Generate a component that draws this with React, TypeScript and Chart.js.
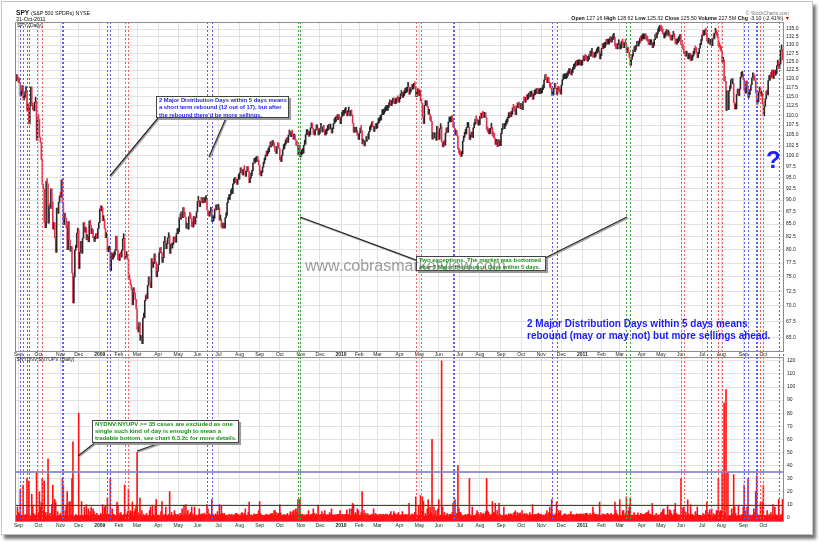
import React, { useEffect, useRef } from 'react';
import { Chart, registerables } from 'chart.js';

Chart.register(...registerables);

// ---------------- DATA ----------------
// SPY daily closes (dividend adjusted, as on the chart), 27-Aug-2008 .. 31-Oct-2011
const close2008 = [
  119.4, 121.2, 119.6,
  119.0, 118.8, 115.2, 115.8, 118.1, 114.1, 114.8, 116.4, 116.7, 111.2, 113.1, 107.8, 112.5, 117.7, 113.3, 111.5, 111.2, 113.5, 113.8, 103.7, 109.4,
  108.9, 104.5, 103.1, 99.1, 93.4, 92.4, 85.4, 84.3, 94.1, 93.6, 85.2, 88.7, 88.2, 92.4, 89.6, 84.0, 85.3, 82.3, 79.5, 88.3, 87.2, 89.5, 90.9,
  90.6, 94.4, 89.4, 84.9, 87.2, 86.2, 84.3, 80.0, 85.5, 81.9, 79.7, 80.6, 75.7, 70.5, 75.0, 79.9, 80.4, 83.2, 84.0,
  76.5, 79.5, 81.6, 79.3, 82.2, 85.3, 83.4, 84.3, 81.9, 82.5, 81.5, 85.6, 84.8, 83.1, 83.9, 82.3, 81.6, 82.1, 82.5, 82.2, 84.1, 85.3,
];
const close2009 = [
  88.1, 87.7, 88.4, 85.7, 86.0, 84.1, 82.3, 82.3, 79.6, 79.7, 80.3, 76.1, 79.4, 78.2, 78.6, 79.0, 79.9, 82.6, 79.9, 78.1,
  78.0, 79.2, 78.6, 79.9, 82.1, 82.2, 78.2, 78.7, 78.9, 78.2, 74.6, 74.5, 73.6, 72.8, 70.2, 73.1, 72.2, 71.1, 69.5,
  66.2, 65.8, 67.3, 64.5, 64.5, 64.0, 68.0, 68.1, 70.9, 71.5, 71.2, 73.5, 75.0, 74.1, 73.1, 78.3, 76.7, 77.4, 79.2, 77.7, 75.0, 76.0,
  77.2, 79.4, 80.3, 79.5, 77.6, 78.5, 81.6, 81.7, 80.2, 81.1, 82.3, 82.8, 79.3, 81.0, 80.3, 81.0, 82.4, 81.6, 81.4, 83.1, 83.1,
  83.5, 86.3, 86.0, 87.5, 86.3, 88.4, 86.5, 86.4, 84.2, 85.0, 84.0, 86.5, 86.4, 86.1, 84.5, 84.4, 86.6, 85.0, 86.3, 87.5,
  89.7, 89.9, 88.6, 89.7, 89.5, 89.4, 89.7, 89.5, 89.9, 90.1, 87.9, 86.7, 86.6, 87.4, 88.2, 85.5, 85.7, 86.2, 88.1, 87.9, 88.8, 88.0,
  88.4, 85.8, 86.0, 84.4, 84.2, 84.5, 84.2, 86.3, 86.8, 89.4, 90.1, 90.1, 91.1, 91.4, 91.4, 93.5, 93.8, 94.1, 93.8, 93.4, 94.5, 94.6,
  96.0, 96.3, 96.0, 95.5, 96.8, 96.5, 95.2, 96.3, 97.0, 96.3, 93.8, 94.8, 95.4, 96.5, 98.3, 98.2, 98.5, 98.6, 98.8, 98.6, 97.8,
  95.6, 95.3, 96.1, 97.3, 98.2, 99.0, 100.0, 99.9, 100.5, 100.9, 102.3, 102.1, 102.7, 102.4, 103.0, 102.0, 101.0, 100.5, 102.2, 102.0, 101.7,
  99.0, 98.6, 100.0, 101.4, 101.7, 102.5, 103.0, 103.5, 103.2, 105.0, 105.4, 104.6, 105.5, 105.0, 104.0, 105.0, 103.8, 102.5, 102.3, 100.2, 102.5, 99.7,
  100.2, 100.5, 100.6, 102.5, 102.8, 105.1, 105.1, 105.6, 104.7, 105.1, 106.8, 106.8, 106.7, 105.2, 105.0, 106.4, 106.3, 106.8, 105.0, 105.4,
  106.7, 106.8, 105.8, 106.3, 106.2, 105.0, 105.3, 106.1, 106.4, 107.2, 106.5, 106.8, 105.5, 106.6, 107.9, 108.2, 108.5, 109.0, 108.9, 109.0, 108.9, 107.9,
];
const close2010 = [
  109.6, 110.0, 110.0, 110.5, 110.8, 111.0, 109.9, 110.9, 111.1, 109.9, 111.3, 110.1, 108.0, 105.7, 106.0, 105.7, 106.1, 104.9, 103.9,
  105.5, 106.7, 106.1, 102.8, 103.1, 102.3, 103.6, 103.4, 104.3, 104.0, 105.8, 106.3, 107.0, 107.3, 107.2, 105.9, 107.0, 106.6, 106.8,
  107.9, 108.2, 108.7, 108.8, 110.2, 110.2, 110.4, 110.9, 111.3, 111.3, 111.3, 112.1, 112.8, 112.8, 112.6, 113.2, 114.0, 113.4, 113.1, 113.3, 114.0, 113.9, 113.5,
  114.4, 115.3, 115.5, 114.8, 115.3, 115.9, 116.1, 116.3, 117.6, 117.7, 115.7, 116.3, 117.3, 117.0, 117.3, 118.3, 117.7, 115.0, 115.6, 117.2, 115.3,
  116.8, 113.9, 113.2, 109.5, 107.9, 112.6, 112.6, 113.8, 112.3, 110.3, 110.3, 108.8, 108.4, 104.0, 105.6, 104.3, 104.3, 103.7, 107.2, 105.7,
  103.9, 106.6, 107.1, 103.3, 102.1, 103.2, 102.5, 105.5, 106.0, 105.7, 108.3, 108.3, 108.4, 109.1, 108.7, 107.0, 106.7, 105.0, 105.1, 104.8, 101.6, 100.6,
  100.2, 99.8, 100.4, 103.5, 104.4, 105.2, 105.3, 106.9, 106.9, 107.0, 103.9, 104.5, 105.7, 104.4, 106.8, 107.7, 108.8, 108.6, 107.9, 107.5, 107.6,
  109.8, 109.3, 110.0, 109.8, 109.5, 110.1, 109.4, 106.4, 105.8, 105.3, 105.4, 106.7, 106.9, 104.9, 104.5, 104.2, 102.7, 103.1, 102.2, 103.9, 102.4, 102.4,
  105.4, 106.4, 107.8, 106.6, 107.3, 107.8, 108.3, 109.4, 109.4, 109.8, 109.7, 110.3, 112.0, 111.6, 111.1, 110.2, 112.5, 112.0, 112.4, 112.2, 111.8,
  112.3, 111.5, 113.7, 113.6, 113.5, 114.3, 114.2, 114.6, 115.4, 115.0, 115.2, 116.0, 114.3, 115.4, 115.6, 115.9, 116.1, 115.9, 115.8, 115.9, 115.9,
  116.1, 116.9, 117.4, 119.7, 120.1, 119.9, 118.9, 119.4, 118.9, 117.6, 117.3, 115.4, 115.5, 117.3, 117.5, 117.3, 115.6, 117.4, 116.5, 116.3, 115.7,
  118.2, 119.7, 120.0, 120.0, 120.0, 120.3, 120.8, 121.5, 121.5, 121.6, 121.1, 121.8, 122.7, 123.0, 123.6, 124.1, 123.9, 124.0, 124.1, 124.2, 123.9, 124.0,
];
const close2011 = [
  125.4, 125.2, 125.9, 125.6, 125.4, 125.1, 125.6, 126.8, 126.6, 127.5, 127.7, 126.3, 126.2, 126.5, 127.3, 127.8, 127.9, 128.1, 125.8, 126.8,
  129.0, 128.9, 129.2, 129.3, 130.2, 130.6, 130.3, 130.3, 131.0, 131.3, 130.9, 131.7, 132.1, 132.4, 129.7, 128.9, 128.8, 130.1, 130.8,
  128.8, 129.1, 131.2, 130.3, 129.2, 130.3, 130.2, 127.7, 128.6, 127.8, 126.3, 123.9, 125.6, 126.6, 128.5, 128.0, 128.4, 129.6, 130.1, 129.7, 130.6, 131.5, 131.3,
  131.9, 131.9, 131.9, 132.2, 132.0, 131.5, 131.1, 130.2, 130.1, 130.1, 130.7, 129.2, 129.9, 131.7, 132.4, 132.2, 133.5, 134.2, 134.6, 135.0,
  134.7, 134.3, 133.4, 132.2, 132.7, 133.3, 134.3, 133.0, 133.6, 132.5, 131.6, 131.5, 132.7, 133.1, 132.0, 130.4, 130.3, 130.7, 131.2, 131.8, 133.2,
  130.1, 129.9, 128.7, 127.4, 126.7, 126.6, 127.6, 125.8, 125.8, 127.5, 125.3, 125.5, 126.6, 127.2, 129.0, 128.2, 127.7, 126.2, 127.4, 129.0, 130.1, 131.4,
  133.3, 133.0, 133.2, 134.6, 133.7, 131.2, 130.6, 131.0, 130.2, 130.9, 129.8, 132.0, 131.9, 133.7, 133.9, 133.1, 132.4, 129.7, 129.4, 128.5,
  128.0, 124.8, 125.5, 119.4, 119.3, 111.3, 116.6, 111.5, 116.6, 117.3, 119.8, 118.6, 118.7, 113.4, 111.7, 111.7, 115.6, 117.1, 115.3, 117.1, 120.4, 120.7, 121.3,
  119.8, 116.8, 116.0, 119.3, 118.0, 114.8, 115.6, 116.7, 118.3, 120.3, 121.6, 119.6, 119.5, 116.1, 113.0, 113.6, 116.3, 117.5, 115.2, 116.0, 113.1,
  109.9, 112.4, 114.4, 116.5, 115.5, 119.5, 119.6, 120.8, 120.4, 122.5, 120.1, 122.5, 121.0, 121.5, 123.8, 125.4, 123.0, 124.3, 128.5, 128.6, 125.5,
];

// $NYDNV:$NYUPV daily ratio
const ratio2008 = [
  2.0, 1.7, 8.2,
  4.0, 3.3, 22, 2.2, 1.7, 25, 2.3, 2.0, 2.5, 30, 2.0, 28, 1.5, 1.4, 18, 9.6, 3.3, 1.8, 2.3, 35, 1.5,
  4.0, 20, 8.2, 12, 30, 5.4, 28, 4.0, 1.3, 4.0, 45, 1.8, 3.3, 1.5, 10, 25, 2.5, 14, 12, 1.3, 4.7, 1.8, 2.0,
  3.3, 1.5, 30, 25, 1.7, 5.4, 9.6, 20, 1.7, 12, 12.4, 2.5, 30, 58, 1.5, 1.3, 2.5, 1.7, 1.7,
  80, 1.7, 1.8, 12.4, 1.8, 1.5, 8.2, 2.2, 10, 2.3, 6.8, 1.4, 4.7, 8.2, 2.6, 6.8, 4.7, 2.5, 2.2, 3.3, 1.7, 2.0,
];
const ratio2009 = [
  1.7, 3.3, 2.2, 10, 2.5, 8.2, 9.6, 2.9, 15, 2.6, 2.5, 30, 1.4, 6.8, 2.6, 2.5, 2.0, 1.4, 12, 9.6,
  3.3, 1.8, 4.0, 2.0, 1.5, 2.6, 25, 2.3, 2.6, 4.7, 22, 3.3, 5.4, 4.7, 12, 1.4, 4.7, 6.8, 9.6,
  50, 4.0, 1.7, 15, 2.9, 5.4, 1.3, 2.6, 1.5, 2.0, 3.3, 1.5, 1.7, 5.4, 8.2, 1.3, 9.6, 2.2, 1.7, 9.6, 14, 1.8,
  2.0, 1.5, 2.0, 4.7, 12.4, 2.2, 1.5, 2.6, 8.2, 2.0, 1.8, 2.5, 20, 1.8, 4.0, 2.0, 1.7, 5.4, 2.9, 1.7, 2.6,
  2.2, 1.4, 3.3, 2.0, 6.8, 1.7, 9.6, 3.0, 10, 2.2, 5.4, 1.5, 2.7, 4.0, 8.2, 2.9, 1.5, 8.2, 2.2, 1.8,
  1.5, 2.3, 6.8, 2.0, 2.9, 2.9, 2.3, 3.3, 2.3, 2.5, 10, 6.8, 3.3, 2.2, 2.5, 14, 2.6, 2.3, 1.5, 3.0, 2.0, 4.7,
  2.0, 10, 2.6, 9.6, 3.3, 2.2, 3.3, 1.5, 2.0, 1.4, 2.0, 2.6, 1.8, 2.2, 2.6, 1.5, 2.2, 2.2, 3.3, 3.4, 2.0, 2.5,
  1.7, 2.2, 3.7, 3.7, 1.8, 3.3, 6.8, 1.8, 2.0, 4.0, 12, 1.8, 2.2, 1.8, 1.7, 2.9, 2.3, 2.6, 2.5, 2.9, 5.4,
  12.4, 3.3, 2.0, 1.7, 1.8, 2.0, 1.8, 2.7, 2.0, 2.2, 1.7, 3.0, 2.6, 3.4, 2.2, 5.4, 5.4, 4.0, 1.7, 3.2, 3.3,
  10, 3.7, 1.7, 1.7, 2.5, 2.0, 2.0, 2.3, 3.3, 1.5, 2.2, 4.7, 2.0, 4.0, 5.4, 2.2, 6.1, 6.8, 4.0, 13.8, 1.5, 14,
  2.3, 2.5, 2.6, 1.5, 2.2, 1.5, 2.6, 2.2, 5.4, 2.2, 1.7, 2.6, 2.9, 6.8, 3.3, 1.7, 2.9, 2.2, 9.6, 2.3,
  1.7, 2.6, 4.7, 2.5, 3.0, 5.4, 2.3, 2.0, 2.3, 2.0, 4.0, 2.5, 6.8, 2.2, 1.8, 2.2, 2.3, 2.0, 2.6, 2.6, 2.6, 5.4,
];
const ratio2010 = [
  1.5, 2.6, 2.5, 2.2, 2.5, 2.5, 6.1, 2.0, 2.5, 6.8, 1.7, 6.8, 11, 10, 2.5, 4.0, 2.5, 6.8, 5.4,
  1.7, 1.7, 4.0, 20, 2.6, 5.4, 1.7, 3.3, 1.8, 2.9, 1.7, 2.0, 2.0, 2.3, 2.9, 6.8, 1.8, 3.3, 2.5,
  1.8, 2.2, 2.5, 2.5, 1.5, 2.6, 2.5, 2.2, 2.3, 2.7, 2.6, 1.8, 2.0, 2.7, 4.7, 2.2, 1.8, 4.7, 3.3, 2.5, 2.2, 2.9, 4.0,
  2.0, 2.0, 2.3, 4.7, 2.3, 2.0, 2.3, 2.6, 1.7, 2.5, 11, 2.2, 1.8, 3.0, 2.5, 2.0, 4.0, 16, 2.2, 1.8, 9.6,
  1.7, 17, 5.4, 16, 12.4, 1.2, 3.3, 1.7, 6.8, 13.8, 3.0, 8.2, 4.0, 60, 1.5, 8.2, 3.0, 5.4, 1.3, 6.8,
  13.8, 1.4, 2.0, 120, 8.2, 2.0, 4.0, 1.4, 2.2, 3.3, 1.4, 2.6, 2.6, 2.3, 4.0, 11, 4.0, 13.8, 2.2, 3.3, 40, 6.8,
  4.0, 4.0, 2.3, 1.3, 1.8, 2.0, 2.6, 1.5, 2.7, 2.6, 30, 2.2, 1.8, 8.2, 1.4, 1.7, 1.8, 3.0, 5.4, 4.0, 2.6,
  1.4, 4.0, 2.0, 3.0, 3.3, 2.0, 4.7, 30, 5.4, 4.0, 2.6, 1.7, 2.5, 12.4, 4.0, 4.0, 11, 2.2, 5.4, 1.7, 11, 2.6,
  1.4, 1.8, 1.7, 8.2, 1.8, 2.2, 2.0, 1.7, 2.9, 2.2, 3.0, 2.6, 1.7, 3.3, 4.0, 5.4, 1.5, 4.0, 2.2, 3.3, 3.7,
  2.3, 5.4, 1.5, 2.9, 3.2, 2.0, 2.9, 2.2, 1.8, 4.0, 2.5, 2.0, 10, 1.8, 2.5, 2.5, 2.3, 3.0, 3.3, 2.6, 2.6,
  2.6, 1.8, 2.2, 1.5, 2.2, 3.2, 5.4, 2.3, 4.0, 8.2, 3.3, 14, 2.6, 1.5, 2.2, 3.2, 12, 1.5, 5.4, 3.7, 5.4,
  1.4, 1.5, 2.0, 2.7, 2.9, 2.2, 2.2, 2.0, 2.6, 2.5, 4.7, 2.0, 2.5, 2.3, 2.0, 2.2, 3.0, 2.6, 2.6, 2.5, 3.0, 2.6,
];
const ratio2011 = [
  1.8, 3.0, 2.0, 3.3, 3.4, 3.2, 2.3, 1.8, 3.3, 2.0, 2.3, 8.2, 3.7, 2.6, 2.0, 2.6, 2.2, 2.3, 12, 1.8,
  1.5, 3.0, 2.5, 2.5, 2.0, 2.2, 3.4, 2.9, 2.0, 2.3, 3.4, 2.0, 2.2, 2.3, 12, 5.4, 3.3, 1.7, 2.0,
  13.8, 2.2, 1.4, 5.4, 5.4, 1.8, 3.3, 16, 1.8, 5.4, 8.2, 15, 1.5, 2.2, 1.5, 4.0, 2.2, 1.8, 2.2, 3.7, 1.8, 1.8, 3.3,
  2.2, 2.6, 2.6, 2.2, 3.4, 4.0, 3.7, 5.4, 2.9, 2.7, 2.2, 11, 2.0, 1.5, 2.0, 3.3, 1.8, 2.0, 2.2, 2.2,
  3.7, 4.3, 6.1, 6.8, 2.2, 2.2, 1.8, 9.6, 2.3, 6.1, 5.4, 3.3, 2.0, 2.3, 6.1, 11, 3.3, 2.3, 2.2, 2.2, 1.7,
  30, 3.3, 7.5, 8.2, 4.7, 4.0, 2.0, 13.8, 2.9, 1.7, 10, 2.6, 2.5, 2.0, 1.5, 4.7, 2.9, 8.2, 1.8, 1.7, 1.8, 1.7,
  1.5, 3.2, 2.6, 1.8, 5.4, 12, 4.0, 2.5, 6.1, 2.2, 6.8, 1.5, 3.2, 1.7, 2.5, 5.4, 5.4, 30, 4.0, 5.4,
  5.4, 35, 2.3, 88, 4.0, 98, 1.3, 35, 1.3, 1.8, 1.5, 6.8, 2.6, 33, 8.2, 3.3, 1.3, 1.8, 9.6, 1.8, 1.4, 2.3, 2.3,
  8.2, 25, 5.4, 1.4, 8.2, 30, 2.0, 2.0, 1.8, 1.7, 2.2, 6.8, 4.0, 20, 32, 2.3, 1.5, 2.0, 12, 2.2, 12,
  25, 1.8, 1.7, 1.7, 5.4, 1.3, 2.6, 2.0, 4.0, 1.7, 10, 1.7, 8.2, 2.5, 1.7, 1.7, 14, 2.2, 1.4, 2.6, 14,
];

// axis labels
const leadDays = 3; // 27..29 Aug 2008 before the first month tick
const monthLabels = ['Sep', 'Oct', 'Nov', 'Dec', '2009', 'Feb', 'Mar', 'Apr', 'May', 'Jun', 'Jul', 'Aug', 'Sep', 'Oct', 'Nov', 'Dec',
  '2010', 'Feb', 'Mar', 'Apr', 'May', 'Jun', 'Jul', 'Aug', 'Sep', 'Oct', 'Nov', 'Dec',
  '2011', 'Feb', 'Mar', 'Apr', 'May', 'Jun', 'Jul', 'Aug', 'Sep', 'Oct'];
const monthTradingDays = [21, 23, 19, 22, 20, 19, 22, 21, 20, 22, 22, 21, 21, 22, 20, 22,
  19, 19, 23, 21, 20, 22, 21, 22, 21, 21, 21, 22,
  20, 19, 23, 20, 21, 22, 20, 23, 21, 21];
const priceTicks = [65, 67.5, 70, 72.5, 75, 77.5, 80, 82.5, 85, 87.5, 90, 92.5, 95, 97.5, 100, 102.5, 105, 107.5, 110, 112.5,
  115, 117.5, 120, 122.5, 125, 127.5, 130, 132.5, 135];
const ratioTicks = [0, 10, 20, 30, 40, 50, 60, 70, 80, 90, 100, 110, 120];
const refLevels = [35, 10];

// distribution-day markers (trading-day index from 27-Aug-2008)
const blueDays = [5, 8, 12, 14, 49, 50, 96, 99, 200, 205, 457, 458, 560, 565, 722, 726, 761, 765, 773, 774, 797, 801];
const redDays = [22, 28, 114, 118, 418, 423, 695, 698, 734, 738, 778, 781];
const greenDays = [295, 297, 638, 642];

// ---------------- STYLE ----------------
const FONT = '"Liberation Sans", Arial, Helvetica, sans-serif';
const BLUE_LINE = '#5b5bff';
const RED_LINE = '#ff5b5b';
const GREEN_LINE = '#3da03d';
const GRID = '#e2e2e2';

function monthStarts(): number[] {
  const out: number[] = [];
  let acc = leadDays;
  for (const n of monthTradingDays) { out.push(acc); acc += n; }
  return out;
}

function eventLinesPlugin(extendBottom: number) {
  return {
    id: 'eventLines',
    afterDatasetsDraw(chart: any) {
      const { ctx, chartArea: a, scales } = chart;
      const xs = scales.x;
      const groups: [number[], string][] = [[blueDays, BLUE_LINE], [redDays, RED_LINE], [greenDays, GREEN_LINE]];
      ctx.save();
      ctx.lineWidth = 1;
      ctx.setLineDash([2, 2]);
      for (const [days, color] of groups) {
        ctx.strokeStyle = color;
        for (const d of days) {
          const px = Math.round(xs.getPixelForValue(d)) + 0.5;
          ctx.beginPath();
          ctx.moveTo(px, a.top);
          ctx.lineTo(px, a.bottom + extendBottom);
          ctx.stroke();
        }
      }
      ctx.restore();
    },
  };
}

const borderPlugin = {
  id: 'plotBorder',
  afterDraw(chart: any) {
    const { ctx, chartArea: a } = chart;
    ctx.save();
    ctx.strokeStyle = '#8c8c8c';
    ctx.lineWidth = 1;
    ctx.setLineDash([]);
    ctx.strokeRect(Math.round(a.left) + 0.5, Math.round(a.top) + 0.5, Math.round(a.right - a.left), Math.round(a.bottom - a.top));
    ctx.restore();
  },
};

const refLinesPlugin = {
  id: 'refLines',
  afterDatasetsDraw(chart: any) {
    const { ctx, chartArea: a, scales } = chart;
    const ys = scales.y;
    ctx.save();
    refLevels.forEach((lvl, k) => {
      const py = Math.round(ys.getPixelForValue(lvl)) + (k === 0 ? 0 : 0.5);
      ctx.strokeStyle = k === 0 ? 'rgba(130,130,205,0.85)' : '#3a3a86';
      ctx.lineWidth = k === 0 ? 2 : 1;
      ctx.beginPath();
      ctx.moveTo(a.left, py);
      ctx.lineTo(a.right, py);
      ctx.stroke();
    });
    ctx.restore();
  },
};

export default function App() {
  const topRef = useRef<HTMLCanvasElement>(null);
  const botRef = useRef<HTMLCanvasElement>(null);

  useEffect(() => {
    const closes = [...close2008, ...close2009, ...close2010, ...close2011];
    const ratios = [...ratio2008, ...ratio2009, ...ratio2010, ...ratio2011];
    const n = closes.length;
    const starts = monthStarts();
    const labelAt = new Map<number, string>();
    starts.forEach((s, i) => labelAt.set(s, monthLabels[i]));

    const priceBars = closes.map((c, i) => {
      const prev = i > 0 ? closes[i - 1] : c;
      return { x: i, y: [Math.min(prev, c), Math.max(prev, c)] };
    });
    const ratioBars = ratios.map((r, i) => ({ x: i, y: r }));

    const xScale = (h: number, pad: number) => ({
      type: 'linear' as const,
      min: -0.5,
      max: n - 0.5,
      offset: false,
      afterBuildTicks: (s: any) => { s.ticks = starts.map((v) => ({ value: v })); },
      afterFit: (s: any) => { s.height = h; },
      grid: { color: GRID, drawTicks: false, offset: false, lineWidth: 1 },
      border: { display: false },
      ticks: {
        autoSkip: false,
        maxRotation: 0,
        padding: pad,
        color: '#222',
        font: (ctx: any) => {
          const lbl = ctx.tick ? labelAt.get(ctx.tick.value) || '' : '';
          return { family: FONT, size: 5, weight: /^\d{4}$/.test(lbl) ? 'bold' : 'normal' };
        },
        callback: (v: any) => labelAt.get(Number(v)) || '',
      },
    });

    const top = new Chart(topRef.current as HTMLCanvasElement, {
      type: 'bar',
      data: {
        datasets: [{
          data: priceBars as any,
          backgroundColor: (ctx: any) => {
            const i = ctx.dataIndex;
            if (i === undefined) return '#222';
            return i > 0 && closes[i] < closes[i - 1] ? '#e0304e' : '#262626';
          },
          borderWidth: 0,
          barPercentage: 1,
          categoryPercentage: 1,
          minBarLength: 5,
        }],
      },
      options: {
        responsive: false,
        animation: false,
        devicePixelRatio: 1,
        events: [],
        layout: { padding: { left: 15, top: 22, right: 0, bottom: 0 } },
        plugins: { legend: { display: false }, tooltip: { enabled: false } },
        scales: {
          x: xScale(9, 1) as any,
          y: {
            type: 'logarithmic',
            position: 'right',
            min: 62.9,
            max: 137.3,
            afterBuildTicks: (s: any) => { s.ticks = priceTicks.map((v) => ({ value: v })); },
            afterFit: (s: any) => { s.width = 37; },
            grid: { color: GRID, drawTicks: false },
            border: { display: false },
            ticks: {
              autoSkip: false,
              padding: 3,
              color: '#222',
              font: { family: FONT, size: 5 },
              callback: (v: any) => Number(v).toFixed(1),
            },
          } as any,
        },
      },
      plugins: [eventLinesPlugin(6), borderPlugin],
    });

    const bot = new Chart(botRef.current as HTMLCanvasElement, {
      type: 'bar',
      data: {
        datasets: [{
          data: ratioBars as any,
          backgroundColor: '#ff1010',
          borderWidth: 0,
          barPercentage: 1,
          categoryPercentage: 1,
          base: -2.5,
        } as any],
      },
      options: {
        responsive: false,
        animation: false,
        devicePixelRatio: 1,
        events: [],
        layout: { padding: { left: 15, top: 6, right: 0, bottom: 11 } },
        plugins: { legend: { display: false }, tooltip: { enabled: false } },
        scales: {
          x: xScale(10, 2) as any,
          y: {
            type: 'linear',
            position: 'right',
            min: -2.5,
            max: 123,
            afterBuildTicks: (s: any) => { s.ticks = ratioTicks.map((v) => ({ value: v })); },
            afterFit: (s: any) => { s.width = 37; },
            grid: { color: GRID, drawTicks: false },
            border: { display: false },
            ticks: {
              autoSkip: false,
              padding: 4,
              color: '#222',
              font: { family: FONT, size: 5 },
              callback: (v: any) => String(v),
            },
          } as any,
        },
      },
      plugins: [eventLinesPlugin(0), refLinesPlugin, borderPlugin],
    });

    return () => { top.destroy(); bot.destroy(); };
  }, []);

  const abs = (s: React.CSSProperties): React.CSSProperties => ({ position: 'absolute', whiteSpace: 'nowrap', ...s });
  const boxText = (color: string, size: number, lh: number): React.CSSProperties => ({
    color, fontWeight: 'bold', fontSize: size, lineHeight: `${lh}px`, fontFamily: FONT,
  });

  return (
    <div style={{ position: 'absolute', left: 0, top: 0, width: 820, height: 542, background: '#fff', fontFamily: FONT, overflow: 'hidden' }}>
      {/* frame */}
      <div style={abs({ left: 1, top: 1, width: 810, height: 532, border: '1px solid #c4c4c4', boxShadow: '3px 4px 3px rgba(0,0,0,0.55)', background: '#fff' })} />
      <canvas ref={topRef} width={820} height={360} style={{ position: 'absolute', left: 0, top: 0 }} />
      <canvas ref={botRef} width={820} height={192} style={{ position: 'absolute', left: 0, top: 350 }} />

      {/* header */}
      <div style={abs({ left: 16, top: 10, fontSize: 6.6, lineHeight: '6.6px', fontWeight: 'bold', color: '#111' })}>
        SPY <span style={{ fontWeight: 'normal', fontSize: 5.3 }}>(S&amp;P 500 SPDRs) NYSE</span>
      </div>
      <div style={abs({ left: 16, top: 16.5, fontSize: 5.4, lineHeight: '5.4px', color: '#111' })}>31-Oct-2011</div>
      <div style={abs({ left: 17, top: 23.3, fontSize: 5, lineHeight: '5px', color: '#222' })}>SPY (Daily)</div>
      <div style={abs({ right: 31, top: 10.8, fontSize: 5, lineHeight: '5px', color: '#777' })}>© StockCharts.com</div>
      <div style={abs({ right: 30, top: 16.2, fontSize: 5.3, lineHeight: '5.3px', color: '#111' })}>
        <b>Open</b> 127.16 <b>High</b> 128.62 <b>Low</b> 125.32 <b>Close</b> 125.50 <b>Volume</b> 227.5M <b>Chg</b> -3.10 (-2.41%) <span style={{ color: '#c00' }}>▼</span>
      </div>
      <div style={abs({ left: 17, top: 356.8, fontSize: 5, lineHeight: '5px', color: '#222' })}>$NYDNV:$NYUPV (Daily)</div>

      {/* pointer lines */}
      <svg width={820} height={542} style={{ position: 'absolute', left: 0, top: 0, pointerEvents: 'none' }}>
        <g stroke="#a8a8a8" strokeWidth={1.4}>
          <line x1={159} y1={119} x2={111} y2={177} />
          <line x1={227} y1={119} x2={210} y2={158} />
          <line x1={417} y1={261} x2={301} y2={218} />
          <line x1={546} y1={259} x2={628} y2={218} />
          <line x1={97} y1={443} x2={79} y2={457} />
          <line x1={161} y1={444} x2={138} y2={452} />
        </g>
        <g stroke="#262626" strokeWidth={1.2}>
          <line x1={158} y1={118} x2={110} y2={176} />
          <line x1={226} y1={118} x2={209} y2={157} />
          <line x1={416} y1={260} x2={300} y2={217} />
          <line x1={545} y1={258} x2={627} y2={217} />
          <line x1={96} y1={442} x2={78} y2={456} />
          <line x1={160} y1={443} x2={137} y2={451} />
        </g>
      </svg>

      {/* blue annotation box */}
      <div style={abs({ left: 156, top: 96, width: 133, height: 22, background: '#fff', border: '1px solid #444', boxShadow: '2px 2px 0 #9a9a9a', boxSizing: 'border-box', padding: '0 0 0 2px' })}>
        <div style={boxText('#2323e8', 5.8, 7.3)}>2 Major Distribution Days within 5 days means</div>
        <div style={boxText('#2323e8', 5.8, 7.3)}>a short term rebound (12 out of 17), but after</div>
        <div style={boxText('#2323e8', 5.8, 7.3)}>the rebound there'd be more sellings.</div>
      </div>

      {/* middle green box */}
      <div style={abs({ left: 416, top: 256, width: 130, height: 15, background: '#fff', border: '1px solid #444', boxShadow: '2px 2px 0 #9a9a9a', boxSizing: 'border-box', padding: '0 0 0 2px' })}>
        <div style={boxText('#169016', 6, 6.6)}>Two exceptions. The market was bottomed</div>
        <div style={boxText('#169016', 5.7, 6.6)}>after 2 Major Distribution Days within 5 days.</div>
      </div>

      {/* watermark (drawn over the box, as in the picture) */}
      <div style={abs({ left: 305, top: 258, fontSize: 16, lineHeight: '16px', color: 'rgba(90,90,90,0.6)' })}>www.cobrasmarketview.com</div>

      {/* lower green box */}
      <div style={abs({ left: 92, top: 420, width: 147, height: 23, background: '#fff', border: '1px solid #444', boxShadow: '2px 2px 0 #9a9a9a', boxSizing: 'border-box', padding: '0 0 0 2px' })}>
        <div style={boxText('#169016', 6, 7)}>NYDNV:NYUPV &gt;= 35 cases are excluded as one</div>
        <div style={boxText('#169016', 6, 7)}>single such kind of day is enough to mean a</div>
        <div style={boxText('#169016', 6, 7)}>tradable bottom, see chart 6.3.2c for more details.</div>
      </div>

      {/* big blue note */}
      <div style={abs({ left: 527, top: 318, fontSize: 10, lineHeight: '12px', fontWeight: 'bold', color: '#1c1cff' })}>
        2 Major Distribution Days within 5 days means<br />rebound (may or may not) but more sellings ahead.
      </div>
      <div style={abs({ left: 766, top: 148, fontSize: 24, lineHeight: '24px', fontWeight: 'bold', color: '#1c1cff' })}>?</div>
    </div>
  );
}
